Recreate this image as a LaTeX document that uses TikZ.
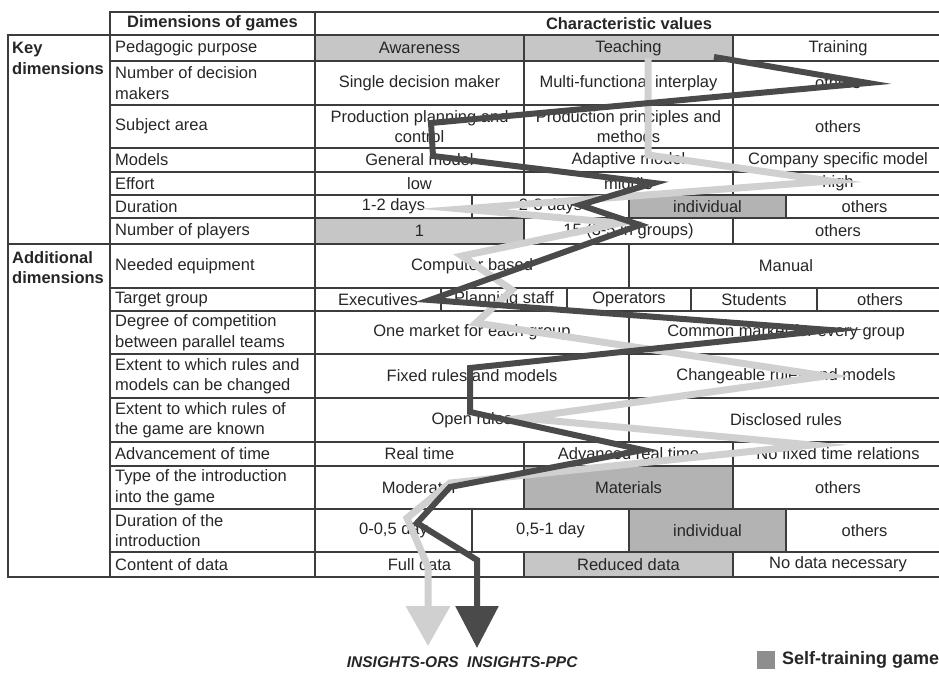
\documentclass[tikz,border=0pt]{standalone}
\usepackage{fontspec}
\setmainfont{Liberation Sans}
\usetikzlibrary{calc,arrows.meta}
\definecolor{gridc}{HTML}{3C3C3C}
\definecolor{txtc}{HTML}{262626}
\definecolor{shadeA}{HTML}{C6C6C6}
\definecolor{shadeB}{HTML}{B3B3B3}
\definecolor{darkband}{HTML}{4A4A4A}
\definecolor{lightband}{HTML}{D0D0D0}
\definecolor{legendc}{HTML}{8E8E8E}
\newcommand\vcell[7][]{%
  \draw[grid,#1] (#3,#5) rectangle (#4,#6);
  \node[val] (#2) at ($(#3,#5)!.5!(#4,#6)$) {#7};}
\newcommand\lcell[4]{%
  \draw[grid] (110,#2) rectangle (315,#3);
  \node[lab] (#1) at ($(115,#2)!.5!(115,#3)$) {#4};}
\begin{document}
\begin{tikzpicture}[x=1pt,y=-1pt,
  grid/.style={draw=gridc,line width=1.2pt},
  val/.style={font=\fontsize{16.5}{20.5}\selectfont,text=txtc,align=center,inner sep=0pt},
  lab/.style={val,anchor=west,align=left},
  hdr/.style={val,font=\bfseries\fontsize{16.5}{20.5}\selectfont},
  band/.style={line join=miter,miter limit=14,line cap=butt},
  insight/.style={font=\bfseries\itshape\fontsize{15.5}{18}\selectfont,text=txtc,inner sep=0pt}]
\useasboundingbox (0,0) rectangle (939,674);

% header
\draw[grid] (110,12) rectangle (315,35);
\node[hdr] (hdim) at (212.5,23.5) {Dimensions of games};
\draw[grid] (315,12) rectangle (943,35);
\node[hdr] (hval) at (629,23.5) {Characteristic values};

% left group column
\draw[grid] (8,35) rectangle (110,244);
\node[hdr,anchor=north west,align=left] (gkey) at (12,42) {Key\\dimensions};
\draw[grid] (8,244) rectangle (110,577);
\node[hdr,anchor=north west,align=left] (gadd) at (12,251) {Additional\\dimensions};

% row 1
\lcell{l1}{35}{61}{Pedagogic purpose}
\vcell[fill=shadeA]{c1a}{315}{524}{35}{61}{Awareness}
\vcell[fill=shadeA]{c1b}{524}{733}{35}{61}{Teaching}
\vcell{c1c}{733}{943}{35}{61}{Training}
% row 2
\lcell{l2}{61}{105}{Number of decision\\makers}
\vcell{c2a}{315}{524}{61}{105}{Single decision maker}
\vcell{c2b}{524}{733}{61}{105}{Multi-functional interplay}
\vcell{c2c}{733}{943}{61}{105}{others}
% row 3
\lcell{l3}{105}{148}{Subject area}
\vcell{c3a}{315}{524}{105}{148}{Production planning and\\control}
\vcell{c3b}{524}{733}{105}{148}{Production principles and\\methods}
\vcell{c3c}{733}{943}{105}{148}{others}
% row 4
\lcell{l4}{148}{172}{Models}
\vcell{c4a}{315}{524}{148}{172}{General model}
\vcell{c4b}{524}{733}{148}{172}{Adaptive model}
\vcell{c4c}{733}{943}{148}{172}{Company specific model}
% row 5
\lcell{l5}{172}{195}{Effort}
\vcell{c5a}{315}{524}{172}{195}{low}
\vcell{c5b}{524}{733}{172}{195}{middle}
\vcell{c5c}{733}{943}{172}{195}{high}
% row 6
\lcell{l6}{195}{218}{Duration}
\vcell{c6a}{315}{472}{195}{218}{1-2 days}
\vcell{c6b}{472}{629}{195}{218}{2-3 days}
\vcell[fill=shadeB]{c6c}{629}{786}{195}{218}{individual}
\vcell{c6d}{786}{943}{195}{218}{others}
% row 7
\lcell{l7}{218}{244}{Number of players}
\vcell[fill=shadeA]{c7a}{315}{524}{218}{244}{1}
\vcell{c7b}{524}{733}{218}{244}{15 (3-5 in groups)}
\vcell{c7c}{733}{943}{218}{244}{others}
% row 8
\lcell{l8}{244}{288}{Needed equipment}
\vcell{c8a}{315}{629}{244}{288}{Computer based}
\vcell{c8b}{629}{943}{244}{288}{Manual}
% row 9
\lcell{l9}{288}{311}{Target group}
\vcell{c9a}{315}{441}{288}{311}{Executives}
\vcell{c9b}{441}{567}{288}{311}{Planning staff}
\vcell{c9c}{567}{691}{288}{311}{Operators}
\vcell{c9d}{691}{817}{288}{311}{Students}
\vcell{c9e}{817}{943}{288}{311}{others}
% row 10
\lcell{l10}{311}{354}{Degree of competition\\between parallel teams}
\vcell{c10a}{315}{629}{311}{354}{One market for each group}
\vcell{c10b}{629}{943}{311}{354}{Common market for every group}
% row 11
\lcell{l11}{354}{398}{Extent to which rules and\\models can be changed}
\vcell{c11a}{315}{629}{354}{398}{Fixed rules and models}
\vcell{c11b}{629}{943}{354}{398}{Changeable rules and models}
% row 12
\lcell{l12}{398}{442}{Extent to which rules of\\the game are known}
\vcell{c12a}{315}{629}{398}{442}{Open rules}
\vcell{c12b}{629}{943}{398}{442}{Disclosed rules}
% row 13
\lcell{l13}{442}{466}{Advancement of time}
\vcell{c13a}{315}{524}{442}{466}{Real time}
\vcell{c13b}{524}{733}{442}{466}{Advanced real time}
\vcell{c13c}{733}{943}{442}{466}{No fixed time relations}
% row 14
\lcell{l14}{466}{509}{Type of the introduction\\into the game}
\vcell{c14a}{315}{524}{466}{509}{Moderator}
\vcell[fill=shadeB]{c14b}{524}{733}{466}{509}{Materials}
\vcell{c14c}{733}{943}{466}{509}{others}
% row 15
\lcell{l15}{509}{552}{Duration of the\\introduction}
\vcell{c15a}{315}{472}{509}{552}{0-0,5 day}
\vcell{c15b}{472}{629}{509}{552}{0,5-1 day}
\vcell[fill=shadeB]{c15c}{629}{786}{509}{552}{individual}
\vcell{c15d}{786}{943}{509}{552}{others}
% row 16
\lcell{l16}{552}{577}{Content of data}
\vcell{c16a}{315}{524}{552}{577}{Full data}
\vcell[fill=shadeA]{c16b}{524}{733}{552}{577}{Reduced data}
\vcell{c16c}{733}{943}{552}{577}{No data necessary}

% light profile (INSIGHTS-ORS)
\coordinate (L1) at (648,58);
\coordinate (L2) at (648,155);
\coordinate (L3) at (830,181);
\coordinate (L4) at (462,209);
\coordinate (L5) at (620,223);
\coordinate (L6) at (462,256);
\coordinate (L7) at (512,290);
\coordinate (L8) at (476,323);
\coordinate (L9) at (826,376);
\coordinate (L10) at (522,418);
\coordinate (L11) at (812,445);
\coordinate (L12) at (450,483);
\coordinate (L13) at (407,518);
\coordinate (L14) at (428,567);
\coordinate (L15) at (428,646);
\draw[band,lightband,line width=7pt,-{Triangle[width=43pt,length=40pt]}]
  (L1) -- (L2) -- (L3) -- (L4) -- (L5) -- (L6) -- (L7) -- (L8) -- (L9)
  -- (L10) -- (L11) -- (L12) -- (L13) -- (L14) -- (L15);

% dark profile (INSIGHTS-PPC)
\coordinate (D1) at (714,57);
\coordinate (D2) at (868,83);
\coordinate (D3) at (431,123);
\coordinate (D4) at (433,156);
\coordinate (D5) at (654,183);
\coordinate (D6) at (580,205);
\coordinate (D7) at (640,225);
\coordinate (D8) at (430,300);
\coordinate (D9) at (830,330);
\coordinate (D10) at (470,368);
\coordinate (D11) at (470,412);
\coordinate (D12) at (643,450);
\coordinate (D13) at (450,487);
\coordinate (D14) at (417,523);
\coordinate (D15) at (477,560);
\coordinate (D16) at (477,648);
\draw[band,darkband,line width=6pt,-{Triangle[width=42pt,length=42pt]}]
  (D1) -- (D2) -- (D3) -- (D4) -- (D5) -- (D6) -- (D7) -- (D8) -- (D9)
  -- (D10) -- (D11) -- (D12) -- (D13) -- (D14) -- (D15) -- (D16);

% labels
\node[insight,anchor=east] (ors) at (459,662) {INSIGHTS-ORS};
\node[insight,anchor=west] (ppc) at (467,662) {INSIGHTS-PPC};
\node[fill=legendc,minimum size=18pt,inner sep=0pt] (legbox) at (766,660) {};
\node[font=\bfseries\fontsize{18}{20}\selectfont,text=txtc,anchor=west,inner sep=0pt] (legtext) at (782,660) {Self-training game};
\end{tikzpicture}
\end{document}
